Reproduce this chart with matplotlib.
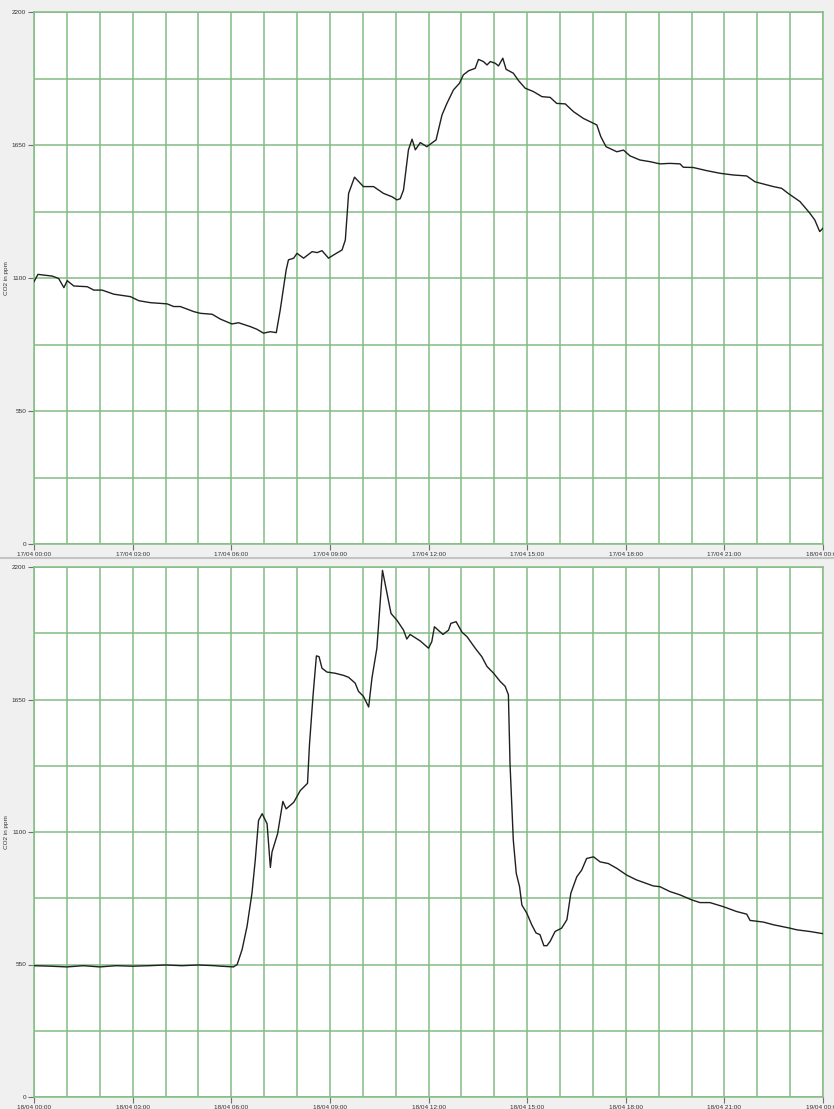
import numpy as np
import matplotlib
matplotlib.use("Agg")
import matplotlib.pyplot as plt
from matplotlib.lines import Line2D
from matplotlib.ticker import FixedLocator, MultipleLocator, NullFormatter

# ---------------------
# data (hours from midnight, CO2 ppm)
# ---------------------
day1_hours = [0.0, 0.12, 0.55, 0.75, 0.91, 1.01, 1.21, 1.62, 1.82, 2.07, 2.43, 2.93,
              3.19, 3.54, 4.05, 4.25, 4.45, 4.86, 5.06, 5.42, 5.67, 6.02, 6.22, 6.58,
              6.78, 6.98, 7.19, 7.37, 7.49, 7.67, 7.74, 7.9, 8.0, 8.2, 8.46, 8.61,
              8.76, 8.96, 9.11, 9.37, 9.47, 9.57, 9.75, 10.02, 10.33, 10.63, 10.89,
              11.04, 11.14, 11.24, 11.39, 11.5, 11.6, 11.75, 11.95, 12.23, 12.41,
              12.56, 12.76, 12.94, 13.06, 13.22, 13.42, 13.52, 13.67, 13.78, 13.88,
              14.03, 14.13, 14.26, 14.36, 14.58, 14.74, 14.94, 15.19, 15.45, 15.7,
              15.9, 16.16, 16.41, 16.71, 17.12, 17.24, 17.4, 17.73, 17.93, 18.13,
              18.43, 18.74, 19.04, 19.34, 19.65, 19.75, 20.05, 20.46, 20.87, 21.27,
              21.68, 21.93, 22.18, 22.49, 22.74, 22.94, 23.3, 23.6, 23.75, 23.9, 24.0]
day1_co2 = [1085, 1115, 1108, 1098, 1060, 1089, 1067, 1064, 1050, 1050, 1033, 1023,
            1006, 998, 993, 982, 982, 961, 954, 950, 930, 910, 915, 899,
            888, 872, 878, 874, 968, 1133, 1175, 1182, 1202, 1182, 1209, 1205,
            1213, 1182, 1195, 1216, 1257, 1450, 1517, 1478, 1478, 1450, 1436,
            1423, 1428, 1464, 1630, 1674, 1630, 1660, 1643, 1671, 1774,
            1822, 1878, 1905, 1940, 1957, 1967, 2004, 1995, 1981, 1995,
            1988, 1977, 2009, 1963, 1947, 1916, 1885, 1871, 1850, 1847,
            1822, 1820, 1788, 1760, 1733, 1685, 1643, 1622, 1629, 1605,
            1588, 1581, 1572, 1574, 1572, 1558, 1557, 1544, 1533, 1526,
            1522, 1498, 1489, 1478, 1471, 1450, 1416, 1368, 1340, 1292, 1306]

day2_hours = [0.0, 0.5, 1.0, 1.5, 2.0, 2.5, 3.0, 3.5, 4.0, 4.5, 5.0, 5.5, 5.67,
              6.07, 6.18, 6.33, 6.48, 6.63, 6.73, 6.83, 6.94, 7.09, 7.19, 7.24,
              7.41, 7.57, 7.67, 7.9, 8.1, 8.32, 8.38, 8.49, 8.59, 8.67, 8.76, 8.91,
              9.16, 9.42, 9.57, 9.77, 9.87, 10.02, 10.18, 10.28, 10.43, 10.6, 10.71,
              10.86, 11.04, 11.24, 11.34, 11.44, 11.75, 12.0, 12.1, 12.18, 12.44,
              12.61, 12.68, 12.84, 13.02, 13.17, 13.42, 13.62, 13.78, 13.98, 14.18,
              14.33, 14.43, 14.48, 14.58, 14.67, 14.77, 14.84, 14.99, 15.14, 15.27,
              15.39, 15.51, 15.6, 15.7, 15.85, 16.05, 16.21, 16.33, 16.51, 16.66,
              16.81, 17.02, 17.22, 17.47, 17.73, 18.03, 18.33, 18.84, 19.04, 19.34,
              19.65, 20.01, 20.26, 20.56, 20.97, 21.37, 21.68, 21.78, 22.19, 22.49,
              22.99, 23.2, 23.6, 24.0]
day2_co2 = [545, 543, 540, 545, 540, 545, 543, 545, 548, 545, 548, 545, 543,
            540, 550, 612, 708, 846, 983, 1148, 1176, 1134, 953, 1017,
            1093, 1227, 1196, 1223, 1272, 1302, 1464, 1670, 1831, 1828, 1780, 1764,
            1759, 1750, 1742, 1718, 1684, 1663, 1619, 1739, 1863, 2186, 2110,
            2007, 1979, 1938, 1901, 1920, 1893, 1863, 1890, 1952, 1920,
            1938, 1966, 1973, 1929, 1911, 1863, 1828, 1787, 1759, 1725,
            1705, 1670, 1382, 1065, 928, 873, 797, 763, 715, 681,
            674, 628, 628, 646, 687, 701, 736, 846, 914, 942,
            990, 997, 976, 969, 949, 921, 901, 876, 873, 853,
            839, 818, 807, 807, 790, 770, 759, 733, 726, 715,
            701, 694, 687, 678]

label_hours = [0, 3, 6, 9, 12, 15, 18, 21, 24]
day1_labels = ["17/04 00:00", "17/04 03:00", "17/04 06:00", "17/04 09:00", "17/04 12:00",
               "17/04 15:00", "17/04 18:00", "17/04 21:00", "18/04 00:00"]
day2_labels = ["18/04 00:00", "18/04 03:00", "18/04 06:00", "18/04 09:00", "18/04 12:00",
               "18/04 15:00", "18/04 18:00", "18/04 21:00", "19/04 00:00"]
y_ticks = [0, 550, 1100, 1650, 2200]

# ---------------------
# figure
# ---------------------
grid_col = '#84bc84'
plt.rcParams['font.family'] = ['Liberation Sans', 'DejaVu Sans']

fig = plt.figure(figsize=(8.34, 11.09), dpi=100, facecolor='#f0f0f0')
W, H = 834.0, 1109.0


def make_panel(rect, hours, co2, labels):
    ax = fig.add_axes(rect)
    ax.set_facecolor('white')
    ax.plot(hours, co2, color='#202020', linewidth=1.0, zorder=3)
    ax.set_xlim(0, 24)
    ax.set_ylim(0, 2200)

    ax.xaxis.set_major_locator(FixedLocator(label_hours))
    ax.set_xticklabels(labels)
    ax.yaxis.set_major_locator(FixedLocator(y_ticks))
    # hourly / 275 ppm grid lives on the minor ticks, kept also under the majors
    ax.xaxis.set_minor_locator(MultipleLocator(1))
    ax.yaxis.set_minor_locator(MultipleLocator(275))
    ax.xaxis.set_minor_formatter(NullFormatter())
    ax.yaxis.set_minor_formatter(NullFormatter())
    ax.xaxis.remove_overlapping_locs = False
    ax.yaxis.remove_overlapping_locs = False

    ax.tick_params(which='major', length=4, width=0.8, color='#707070',
                   labelsize=4.6, labelcolor='#333333', pad=1.5)
    ax.tick_params(which='minor', length=0)
    ax.grid(False, which='major')
    ax.grid(True, which='minor', color=grid_col, linewidth=1.1)
    ax.set_axisbelow(True)
    for s in ax.spines.values():
        s.set_color(grid_col)
        s.set_linewidth(1.1)
    ax.set_ylabel('CO2 in ppm', fontsize=4.6, color='#333333', labelpad=2)
    return ax


make_panel([34 / W, 1 - 544 / H, (823 - 34) / W, (544 - 12) / H],
           day1_hours, day1_co2, day1_labels)
make_panel([34 / W, 1 - 1097 / H, (823 - 34) / W, (1097 - 567) / H],
           day2_hours, day2_co2, day2_labels)

# separator between the two panels
fig.add_artist(Line2D([0, 1], [1 - 558 / H, 1 - 558 / H], transform=fig.transFigure,
                      color='#c4c4c4', linewidth=1.5))

fig.savefig('out.png', dpi=100, facecolor=fig.get_facecolor())
